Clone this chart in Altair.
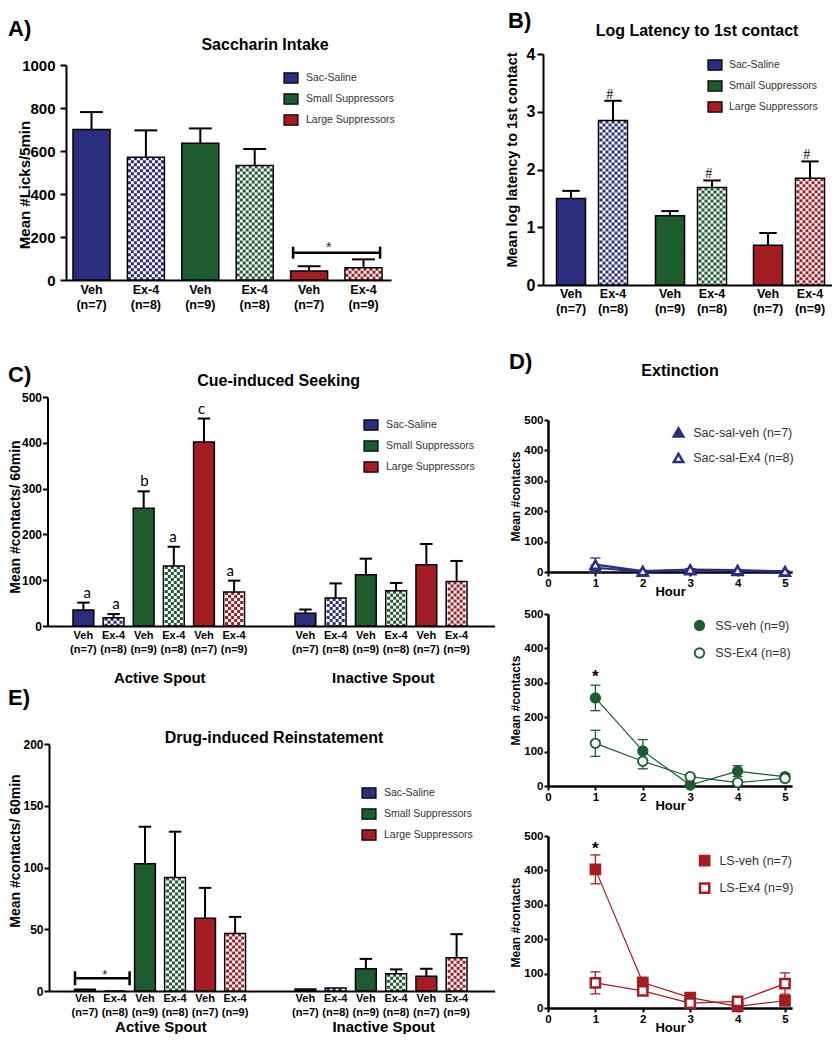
import altair as alt
import pandas as pd

# ======================= data =======================
groups = ["Sac-Saline", "Small Suppressors", "Large Suppressors"]
bar_group = ["Sac-Saline", "Sac-Saline", "Small Suppressors", "Small Suppressors",
             "Large Suppressors", "Large Suppressors"]
bar_treat = ["Veh", "Ex-4", "Veh", "Ex-4", "Veh", "Ex-4"]
bar_n = ["(n=7)", "(n=8)", "(n=9)", "(n=8)", "(n=7)", "(n=9)"]

# A) Saccharin intake (licks / 5 min)
sacc_mean = [700, 571, 636, 532, 42, 57]
sacc_sem = [81, 125, 69, 77, 22, 39]
# B) Log latency to 1st contact
lat_mean = [1.50, 2.85, 1.20, 1.69, 0.69, 1.85]
lat_sem = [0.13, 0.34, 0.08, 0.12, 0.21, 0.29]
lat_mark = ["", "#", "", "#", "", "#"]
# C) Cue-induced seeking
cue_act_mean = [35, 18, 257, 131, 402, 74]
cue_act_sem = [16, 8, 37, 42, 51, 25]
cue_act_letter = ["a", "a", "b", "a", "c", "a"]
cue_ina_mean = [28, 61, 112, 77, 134, 97]
cue_ina_sem = [8, 32, 35, 17, 45, 45]
# E) Drug-induced reinstatement
drug_act_mean = [1.5, 0.0, 103, 92, 59, 46.5]
drug_act_sem = [0, 0, 30, 37, 24.5, 13.5]
drug_ina_mean = [1.6, 2.4, 18, 14, 12, 27]
drug_ina_sem = [0, 0, 8, 3.5, 6, 19]
# D) Extinction
hours = [1, 2, 3, 4, 5]
sac_names = ["Sac-sal-veh (n=7)", "Sac-sal-Ex4 (n=8)"]
sac_veh = [14, 1, 6, 4, 1]
sac_veh_sem = [8, 2, 3, 2, 1]
sac_ex4 = [24, 3, 8, 6, 2]
sac_ex4_sem = [22, 2, 3, 2, 1]
ss_names = ["SS-veh (n=9)", "SS-Ex4 (n=8)"]
ss_veh = [256, 102, 3, 43, 27]
ss_veh_sem = [37, 33, 3, 16, 8]
ss_ex4 = [124, 72, 27, 10, 22]
ss_ex4_sem = [38, 22, 6, 5, 6]
ls_names = ["LS-veh (n=7)", "LS-Ex4 (n=9)"]
ls_veh = [403, 74, 30, 5, 21]
ls_veh_sem = [42, 15, 8, 3, 8]
ls_ex4 = [73, 50, 14, 19, 71]
ls_ex4_sem = [32, 12, 5, 6, 31]

ticks_a = [0, 200, 400, 600, 800, 1000]
ticks_b = [0, 1, 2, 3, 4]
ticks_c = [0, 100, 200, 300, 400, 500]
ticks_e = [0, 50, 100, 150, 200]
ticks_hour = [0, 1, 2, 3, 4, 5]
ticks_ext = [0, 100, 200, 300, 400, 500]
spouts = ["Active Spout", "Inactive Spout"]

# ======================= layout / style =======================
W, H = 824, 1026
FONT = "Liberation Sans"
NAVY, GREEN, RED = "#2b2d7f", "#1e5c30", "#a31d23"
group_colors = [NAVY, GREEN, RED]
fill_scale = alt.Scale(domain=groups, range=group_colors)


def X(v):
    return v - 8


def Y1(v):
    return v - 3


def Y2(v):
    return v - 8


def Y3(v):
    return v - 14


def text(s, x, y, size, weight="bold", angle=0, align="center", font=FONT, color="black"):
    return alt.Chart(pd.DataFrame({"t": [s]})).mark_text(
        font=font, fontSize=size, fontWeight=weight, angle=angle, align=align,
        baseline="middle", color=color
    ).encode(text="t:N", x=alt.value(x), y=alt.value(y))


def bar_table(mean, sem, idx, note=None):
    idx = list(idx)
    return pd.DataFrame({
        "slot": ["|".join([bar_treat[i], bar_n[i], bar_group[i]]) for i in idx],
        "group": [bar_group[i] for i in idx],
        "treat": [bar_treat[i] for i in idx],
        "mean": [mean[i] for i in idx],
        "sem": [sem[i] for i in idx],
        "top": [mean[i] + sem[i] for i in idx],
        "note": [note[i] if note else "" for i in idx],
    })


def bar_legend(lx, ly, row_pad, lab_off):
    return alt.Legend(orient="none", legendX=lx, legendY=ly, title=None, padding=0,
                      symbolType="M-1,-0.72H1V0.72H-1Z", symbolSize=196,
                      symbolStrokeColor="black", symbolStrokeWidth=1.2,
                      labelFont=FONT, labelFontSize=10.5, labelColor="#333333",
                      rowPadding=row_pad, labelOffset=lab_off)


def frame(x0, x1, axis_y, ys, yvals, ysize, tick, lpad, cats=None, cat_size=15, cat_pad=0,
          fmt=None):
    c = cats if cats else ["_"]
    df = pd.DataFrame({"cat": c, "v": [0] * len(c)})
    xaxis = alt.Axis(orient="bottom", offset=axis_y - H, domain=True, domainColor="black",
                     domainWidth=2, ticks=False, tickSize=0, labels=bool(cats),
                     labelFont=FONT, labelFontSize=cat_size, labelFontWeight="bold",
                     labelColor="black", labelPadding=cat_pad, labelAngle=0,
                     labelBaseline="top", title=None, grid=False)
    ykw = dict(format=fmt) if fmt else {}
    yaxis = alt.Axis(orient="left", offset=-x0, values=yvals, domainColor="black",
                     domainWidth=2, tickColor="black", tickWidth=2, tickSize=tick,
                     labelFont=FONT, labelFontSize=ysize, labelFontWeight="bold",
                     labelColor="black", labelPadding=lpad, labelFlush=False,
                     labelOverlap=False, title=None, grid=False, **ykw)
    return alt.Chart(df).mark_point(opacity=0).encode(
        x=alt.X("cat:N", scale=alt.Scale(domain=c, range=[x0, x1], paddingInner=0,
                                         paddingOuter=0), axis=xaxis),
        y=alt.Y("v:Q", scale=ys, axis=yaxis))


def bar_block(df, x0, x1, bw, ys, axis_y, lab_size, lab_pad, lab_lh, legend=None,
              note=None, cap=0.62):
    n = len(df)
    step = (x1 - x0 - bw) / (n - 1)
    xs = alt.Scale(domain=list(df["slot"]), range=[x0, x1], paddingInner=1 - bw / step,
                   paddingOuter=0)
    xaxis = alt.Axis(orient="bottom", offset=axis_y - H, domain=False, ticks=False,
                     tickSize=0, grid=False, title=None, labelAngle=0,
                     labelExpr="slice(split(datum.value, '|'), 0, 2)",
                     labelFont=FONT, labelFontSize=lab_size, labelFontWeight="bold",
                     labelColor="black", labelPadding=lab_pad, labelLineHeight=lab_lh,
                     labelBaseline="top", labelOverlap=False)

    def xe(**kw):
        return alt.X("slot:N", scale=xs, **kw)

    yv = alt.Y("mean:Q", scale=ys, axis=None)
    base = alt.Chart(df)
    veh = base.transform_filter("datum.treat == 'Veh'")
    ex = base.transform_filter("datum.treat == 'Ex-4'")
    eb = base.transform_filter("datum.sem > 0")
    out = []
    out.append(veh.mark_bar(stroke="black", strokeWidth=1.5).encode(
        x=xe(axis=xaxis), y=yv,
        fill=alt.Fill("group:N", scale=fill_scale, legend=legend)))
    out.append(ex.mark_bar(color="white").encode(x=xe(axis=None), y=yv))
    ncols = int((bw - 1) // 3)
    off0 = (bw - 3 * ncols) / 2
    for k in range(ncols):
        out.append(ex.mark_rule(strokeWidth=3, strokeDash=[3, 3],
                                strokeDashOffset=0 if k % 2 == 0 else 3).encode(
            x=xe(axis=None, bandPosition=(off0 + 1.5 + 3 * k) / bw), y=yv,
            y2=alt.datum(0),
            color=alt.Color("group:N", scale=fill_scale, legend=None)))
    out.append(ex.mark_bar(filled=False, stroke="black", strokeWidth=1.5).encode(
        x=xe(axis=None), y=yv))
    out.append(eb.mark_rule(color="black", strokeWidth=2).encode(
        x=xe(axis=None), y=yv, y2=alt.Y2("top")))
    out.append(eb.mark_tick(orient="horizontal", thickness=2, size=bw * cap,
                            color="black", opacity=1).encode(
        x=xe(axis=None), y=alt.Y("top:Q", scale=ys, axis=None)))
    if note:
        out.append(base.transform_filter("datum.note != ''").mark_text(
            font=note["font"], fontSize=note["size"], baseline="alphabetic",
            dy=note["dy"], color="black").encode(
            x=xe(axis=None), y=alt.Y("top:Q", scale=ys, axis=None), text="note:N"))
    return out, xs


def bracket(slot, value, xs, ys, center_off, length, end_a, end_b, tick_len,
            star_dx, star_dy, star_size):
    b = alt.Chart(pd.DataFrame({"a": [slot], "v": [value]}))
    xa = alt.X("a:N", scale=xs, axis=None)
    yv = alt.Y("v:Q", scale=ys, axis=None)
    return [
        b.mark_tick(orient="horizontal", size=length, thickness=2.5, color="black",
                    opacity=1, xOffset=center_off).encode(x=xa, y=yv),
        b.mark_tick(orient="vertical", size=tick_len, thickness=2.5, color="black",
                    opacity=1, xOffset=end_a).encode(x=xa, y=yv),
        b.mark_tick(orient="vertical", size=tick_len, thickness=2.5, color="black",
                    opacity=1, xOffset=end_b).encode(x=xa, y=yv),
        b.mark_text(text="*", font=FONT, fontSize=star_size, dx=star_dx, dy=star_dy,
                    baseline="alphabetic", color="#222222").encode(x=xa, y=yv),
    ]


def ext_panel(names, series, color, shape, y0, y500, leg_cx, leg_cy, row_pad, lab_off,
              line_w, pt_w, pt_size, star_dy=None):
    rows = []
    for nm, (ms, es) in zip(names, series):
        for h, m, e in zip(hours, ms, es):
            rows.append(dict(series=nm, hour=h, mean=m, lo=max(m - e, 0), hi=m + e))
    df = pd.DataFrame(rows)
    xs = alt.Scale(domain=[0, 5.15], range=[X(548), X(548 + 5.15 * 47.4)], nice=False,
                   zero=False)
    ys = alt.Scale(domain=[0, 500], range=[y0, y500], nice=False, zero=False)
    xaxis = alt.Axis(orient="bottom", offset=y0 - H, values=ticks_hour, domainColor="black",
                     domainWidth=2.5, tickColor="black", tickWidth=2, tickSize=4,
                     labelFont=FONT, labelFontSize=11.5, labelFontWeight="bold",
                     labelColor="black", labelPadding=1, labelFlush=False,
                     labelOverlap=False, title="Hour", titleFont=FONT, titleFontSize=13,
                     titleFontWeight="bold", titleColor="black", titlePadding=-3,
                     grid=False)
    yaxis = alt.Axis(orient="left", offset=-X(548), values=ticks_ext, domainColor="black",
                     domainWidth=2.5, tickColor="black", tickWidth=2, tickSize=4,
                     labelFont=FONT, labelFontSize=11.5, labelFontWeight="bold",
                     labelColor="black", labelPadding=1, labelFlush=False,
                     labelOverlap=False, title="Mean #contacts", titleFont=FONT,
                     titleFontSize=12, titleFontWeight="bold", titleColor="black",
                     titlePadding=1, grid=False)
    base = alt.Chart(df)
    xh = alt.X("hour:Q", scale=xs, axis=None)
    out = [
        base.mark_line(color=color, strokeWidth=line_w).encode(
            x=alt.X("hour:Q", scale=xs, axis=xaxis),
            y=alt.Y("mean:Q", scale=ys, axis=yaxis), detail="series:N"),
        base.mark_rule(color=color, strokeWidth=1.3).encode(
            x=xh, y=alt.Y("lo:Q", scale=ys, axis=None), y2=alt.Y2("hi")),
        base.mark_tick(orient="horizontal", size=10, thickness=1.3, color=color,
                       opacity=1).encode(
            x=xh, y=alt.Y("hi:Q", scale=ys, axis=None)),
        base.transform_filter("datum.lo > 0").mark_tick(
            orient="horizontal", size=10, thickness=1.3, color=color, opacity=1).encode(
            x=xh, y=alt.Y("lo:Q", scale=ys, axis=None)),
    ]
    r = pt_size ** 0.5 / 2
    leg = alt.Legend(orient="none", legendX=leg_cx - r, legendY=leg_cy - r, title=None,
                     padding=0, labelFont=FONT, labelFontSize=12.5, labelColor="#333333",
                     symbolSize=pt_size, symbolStrokeWidth=pt_w,
                     rowPadding=row_pad, labelOffset=lab_off)
    out.append(base.mark_point(filled=True, strokeWidth=pt_w, size=pt_size,
                               opacity=1).encode(
        x=xh, y=alt.Y("mean:Q", scale=ys, axis=None),
        shape=alt.Shape("series:N", scale=alt.Scale(domain=names, range=[shape, shape]),
                        legend=leg),
        fill=alt.Fill("series:N", scale=alt.Scale(domain=names, range=[color, "white"]),
                      legend=leg),
        stroke=alt.Stroke("series:N", scale=alt.Scale(domain=names, range=[color, color]),
                          legend=leg)))
    if star_dy is not None:
        out.append(base.transform_filter(
            "datum.series == '%s' && datum.hour == 1" % names[0]).mark_text(
            text="*", font=FONT, fontSize=17, fontWeight="bold", baseline="alphabetic",
            dy=star_dy, color="black").encode(x=xh, y=alt.Y("hi:Q", scale=ys, axis=None)))
    return out


layers = []

# ---------------- A) Saccharin Intake ----------------
ys_a = alt.Scale(domain=[0, 1000], range=[Y1(275), Y1(60)], nice=False)
layers.append(frame(X(66), X(391), Y1(275), ys_a, ticks_a, 15, 6, 5, fmt="d"))
blk, xs_a = bar_block(bar_table(sacc_mean, sacc_sem, range(6)), X(73), X(382), 37, ys_a,
                      Y1(275), 12.5, 3, 15, legend=bar_legend(X(283), Y1(65), 5, 7))
layers += blk
layers += bracket("Veh|(n=7)|Large Suppressors", 127, xs_a, ys_a, 27.5, 87, -16, 71, 12,
                  24, -1, 14)
layers.append(text("Mean #Licks/5min", X(25), Y1(180), 15, angle=270))
layers.append(text("Saccharin Intake", X(265), Y1(40), 16))
layers.append(text("A)", 0, Y1(24), 22, align="left"))

# ---------------- B) Log latency ----------------
ys_b = alt.Scale(domain=[0, 4], range=[Y1(280), Y1(49)], nice=False)
layers.append(frame(X(543), X(838), Y1(280), ys_b, ticks_b, 16, 6, 2))
for gi, (gx0, gx1) in enumerate([(556.5, 627.5), (655.5, 726.5), (753.5, 824.5)]):
    blk, _ = bar_block(bar_table(lat_mean, lat_sem, [2 * gi, 2 * gi + 1], lat_mark),
                       X(gx0), X(gx1), 29, ys_b, Y1(280), 12.5, 2, 15,
                       legend=bar_legend(X(707), Y1(52), 5, 6) if gi == 0 else None,
                       note=dict(font="Liberation Serif", size=14, dy=-2), cap=0.6)
    layers += blk
layers.append(text("Mean log latency to 1st contact", X(513), Y1(155), 14.5, angle=270))
layers.append(text("Log Latency to 1st contact", X(697), Y1(26), 16))
layers.append(text("B)", X(508), 13, 22, align="left"))

# ---------------- C) Cue-induced Seeking ----------------
ys_c = alt.Scale(domain=[0, 500], range=[Y2(626), Y2(397)], nice=False)
layers.append(frame(X(47.5), X(494.6), Y2(626), ys_c, ticks_c, 12, 5, 1, cats=spouts,
                    cat_size=15, cat_pad=44))
blk, _ = bar_block(bar_table(cue_act_mean, cue_act_sem, range(6), cue_act_letter),
                   X(73), X(244.5), 20.8, ys_c, Y2(626), 11, 3, 14,
                   legend=bar_legend(X(363), Y2(417), 5, 7),
                   note=dict(font="Lato", size=15, dy=-5), cap=0.6)
layers += blk
blk, _ = bar_block(bar_table(cue_ina_mean, cue_ina_sem, range(6)), X(295), X(467), 20.8,
                   ys_c, Y2(626), 11, 3, 14, cap=0.6)
layers += blk
layers.append(text("Mean #contacts/ 60min", 7.5, Y2(517), 14, angle=270))
layers.append(text("Cue-induced Seeking", X(278.6), Y2(381), 16))
layers.append(text("C)", 0, Y2(375), 22, align="left"))

# ---------------- E) Drug-induced Reinstatement ----------------
ys_e = alt.Scale(domain=[0, 200], range=[Y3(997), Y3(750)], nice=False)
layers.append(frame(X(49), X(494.6), Y3(997), ys_e, ticks_e, 12, 5, 1, cats=spouts,
                    cat_size=15, cat_pad=28))
blk, xs_e = bar_block(bar_table(drug_act_mean, drug_act_sem, range(6)), X(74.5), X(245.5),
                      20.8, ys_e, Y3(997), 11, 1, 14,
                      legend=bar_legend(X(361), Y3(791), 5, 7), cap=0.6)
layers += blk
blk, _ = bar_block(bar_table(drug_ina_mean, drug_ina_sem, range(6)), X(295), X(467), 20.8,
                   ys_e, Y3(997), 11, 1, 14, cap=0.6)
layers += blk
layers += bracket("Veh|(n=7)|Sac-Saline", 10.3, xs_e, ys_e, 17.4, 54.6, -9.9, 44.7, 14,
                  16, 1, 13)
layers.append(text("Mean #contacts/ 60min", 7.5, Y3(857), 14, angle=270))
layers.append(text("Drug-induced Reinstatement", X(274), Y3(744), 16))
layers.append(text("E)", 0, Y3(704), 22, align="left"))

# ---------------- D) Extinction ----------------
layers += ext_panel(sac_names, [(sac_veh, sac_veh_sem), (sac_ex4, sac_ex4_sem)], NAVY,
                    "triangle-up", Y2(572), Y2(420), X(677), Y2(431), 6.5, 8.5,
                    2.2, 2.5, 90)
layers += ext_panel(ss_names, [(ss_veh, ss_veh_sem), (ss_ex4, ss_ex4_sem)], GREEN,
                    "circle", Y2(786), Y2(614), X(698), Y2(624), 9.5, 9.5,
                    1.2, 1.8, 90, star_dy=-3)
layers += ext_panel(ls_names, [(ls_veh, ls_veh_sem), (ls_ex4, ls_ex4_sem)], RED,
                    "square", 1000, 828, X(703), Y3(865), 7.5, 8.5,
                    1.2, 2.5, 85, star_dy=-1)
layers.append(text("D)", X(509), Y2(362), 22, align="left"))
layers.append(text("Extinction", X(680), Y2(371), 16))

chart = alt.layer(*layers).properties(
    width=W, height=H, padding=0, autosize=alt.AutoSizeParams(type="none")
).resolve_scale(
    x="independent", y="independent", fill="independent", shape="independent",
    color="independent", stroke="independent"
).configure(font=FONT).configure_view(stroke=None)

chart.save("out.html", embed_options={"renderer": "svg", "actions": False})
